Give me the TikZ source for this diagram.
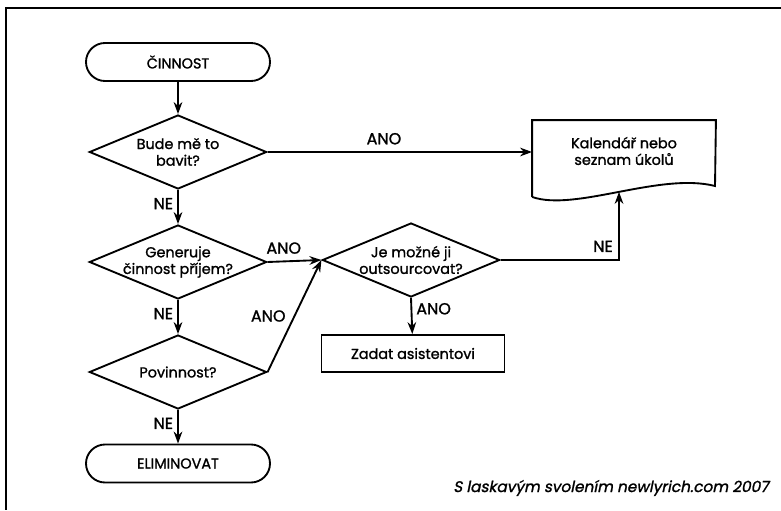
\documentclass[tikz,border=0pt]{standalone}
\usepackage{fontspec}
\setmainfont{Poppins}[FakeBold=1.3]
\newfontfamily\notefont{Poppins}[FakeSlant=0.2,FakeBold=1.3]
\usetikzlibrary{shapes.geometric,shapes.misc,arrows.meta}

\begin{document}
\begin{tikzpicture}[x=0.75pt,y=-0.75pt,line width=1.4pt,>={Stealth[length=9pt,width=6.5pt]},
  every node/.style={font=\fontsize{10.8}{12.5}\selectfont,inner sep=0pt},
  terminal/.style={draw,rounded rectangle,minimum width=138pt,minimum height=28.5pt},
  decision/.style={draw,diamond,minimum width=133pt,minimum height=55.5pt,label={[align=center]center:#1}},
  action/.style={draw,rectangle,minimum width=137.25pt,minimum height=27.75pt},
  answer/.style={font=\fontsize{12}{14}\selectfont}]
\useasboundingbox (0,0) rectangle (781,510);
\draw (781,8) -- (6,8) -- (6,510);
\node[terminal] (start) at (178,62) {ČINNOST};
\node[decision={Bude mě to\\bavit?}] (fun) at (178,152) {};
\node[decision={Generuje\\činnost příjem?}] (income) at (178,262) {};
\node[decision={Povinnost?}] (duty) at (178,372) {};
\node[terminal] (drop) at (178,463.5) {ELIMINOVAT};
\node[decision={Je možné ji\\outsourcovat?}] (out) at (411,260) {};
\node[action] (assist) at (413,353.5) {Zadat asistentovi};
\node[minimum width=136.5pt,minimum height=56.25pt] (calbox) at (624,158.5) {};
\node[align=center] (cal) at (624,151) {Kalendář nebo\\seznam úkolů};
\draw (calbox.south west) -- (calbox.north west) -- (calbox.north east) -- (715,186)
  .. controls (660,172) and (575,212) .. (calbox.south west) coordinate[pos=0.5] (wave);
\node[font=\notefont\fontsize{11.5}{13}\selectfont] (note) at (611,488) {S laskavým svolením newlyrich.com 2007};
\draw[->] (start) -- (fun);
\draw[->] (fun) -- node[answer,pos=0.4,left=3pt] {NE} (income);
\draw[->] (income) -- node[answer,pos=0.4,left=3pt] {NE} (duty);
\draw[->] (duty) -- node[answer,pos=0.4,left=3pt] {NE} (drop);
\draw[->] (fun.east) -- node[answer,pos=0.44,above=5pt] {ANO} (fun.east -| calbox.west);
\draw[->] (income.east) -- node[answer,pos=0.3,above=5pt] {ANO} (out.west);
\draw[->] (duty.east) -- node[answer,midway,left=6pt] {ANO} (out.west);
\draw[->] (out.south) -- node[answer,pos=0.3,right=3pt] {ANO} (assist);
\draw[->] (out.east) -| node[answer,pos=0.6,left=4pt] {NE} (wave);
\end{tikzpicture}
\end{document}
